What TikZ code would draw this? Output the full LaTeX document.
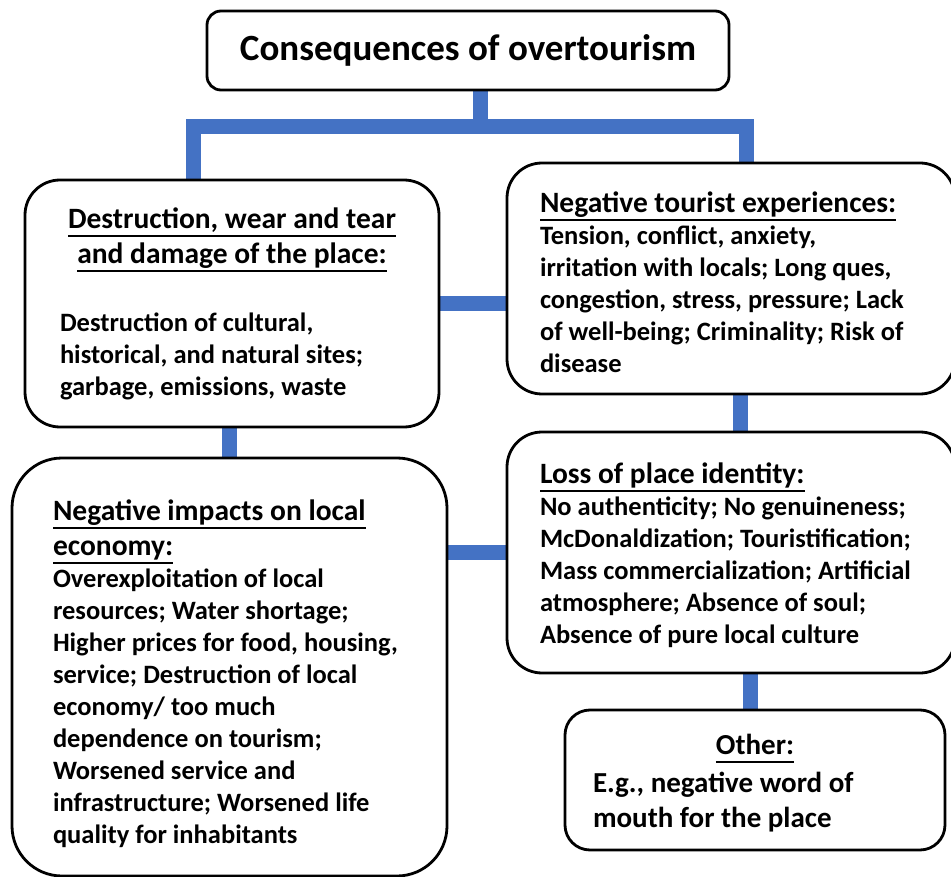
\documentclass[tikz,border=0pt]{standalone}
\usepackage{fontspec}
\setmainfont{Carlito}
\usetikzlibrary{backgrounds}
\definecolor{linkblue}{HTML}{4472C4}
\newcommand{\uhead}[1]{\leavevmode\setbox0\hbox{#1}\rlap{\rule[-8.5pt]{\wd0}{2pt}}\box0}
\newcommand{\headfont}{\fontsize{29.5}{35}\selectfont}

\tikzset{
  card/.style={draw, line width=2.8pt, rounded corners=#1, inner sep=0pt,
    font=\bfseries\fontsize{26.5}{32}\selectfont},
  card/.default=35pt,
  link/.style={draw=linkblue, line width=15pt}
}

\begin{document}
\begin{tikzpicture}[x=1pt, y=-1pt]
\useasboundingbox (0,0) rectangle (951,877);
\clip (0,0) rectangle (951,877);

% Title
\node[card=14pt,
    minimum width=522pt,
    minimum height=79pt,
    font=\bfseries\fontsize{37}{44}\selectfont
] (title) at (468,50.5) {Consequences of overtourism};

% Damage of the place
\node[card,
    minimum width=414pt,
    minimum height=247pt
] (place) at (232,303.5) {\parbox{344pt}{\centering
    {\headfont\uhead{Destruction, wear and tear}\\\uhead{and damage of the place:}\par}
    \vspace{36pt}\raggedright
    Destruction of cultural,\\historical, and natural sites;\\garbage, emissions, waste}};

% Tourist experiences
\node[card,
    minimum width=448pt,
    minimum height=231pt
] (tourist) at (731,278.5) {\parbox{382pt}{\raggedright
    \vspace*{8pt}
    {\headfont\uhead{Negative tourist experiences:}\par}
    Tension, conflict, anxiety,\\irritation with locals; Long ques,\\
    congestion, stress, pressure; Lack\\of well-being; Criminality; Risk of\\disease}};

% Place identity
\node[card,
    minimum width=448pt,
    minimum height=241pt
] (identity) at (731,552.5) {\parbox{382pt}{\raggedright
    \vspace*{6pt}
    {\headfont\uhead{Loss of place identity:}\par}
    No authenticity; No genuineness;\\McDonaldization; Touristification;\\
    Mass commercialization; Artificial\\atmosphere; Absence of soul;\\
    Absence of pure local culture}};

% Local economy
\node[card=50pt,
    minimum width=435pt,
    minimum height=418pt
] (economy) at (229.5,667) {\parbox{353pt}{\raggedright
    \vspace*{14pt}
    {\headfont\uhead{Negative impacts on local}\\\uhead{economy:}\par}
    Overexploitation of local\\resources; Water shortage;\\
    Higher prices for food, housing,\\service; Destruction of local\\
    economy/ too much\\dependence on tourism;\\
    Worsened service and\\infrastructure; Worsened life\\
    quality for inhabitants}};

% Other
\node[card=25pt,
    minimum width=380pt,
    minimum height=140pt,
    font=\bfseries\fontsize{29}{35}\selectfont
] (other) at (755,780) {\parbox{324pt}{\centering
    \vspace*{6pt}
    \uhead{Other:}\par\vspace{3pt}\raggedright
    E.g., negative word of\\mouth for the place}};

% Connectors
\begin{scope}[on background layer]
\draw[link] ([xshift=12pt]title.south) -- ++(0,35) coordinate (split);
\draw[link] ([xshift=-39pt]place.north) |- (split) -| ([xshift=15.5pt]tourist.north);
\draw[link] (place.east) -- (place.east -| tourist.west);
\draw[link] (economy.north) -- (economy.north |- place.south);
\draw[link] ([xshift=9pt]tourist.south) -- ([xshift=9pt]tourist.south |- identity.north);
\draw[link] (identity.west) -- (identity.west -| economy.east);
\draw[link] ([xshift=-5pt]other.north) -- ([xshift=-5pt]other.north |- identity.south);
\end{scope}

\end{tikzpicture}
\end{document}
